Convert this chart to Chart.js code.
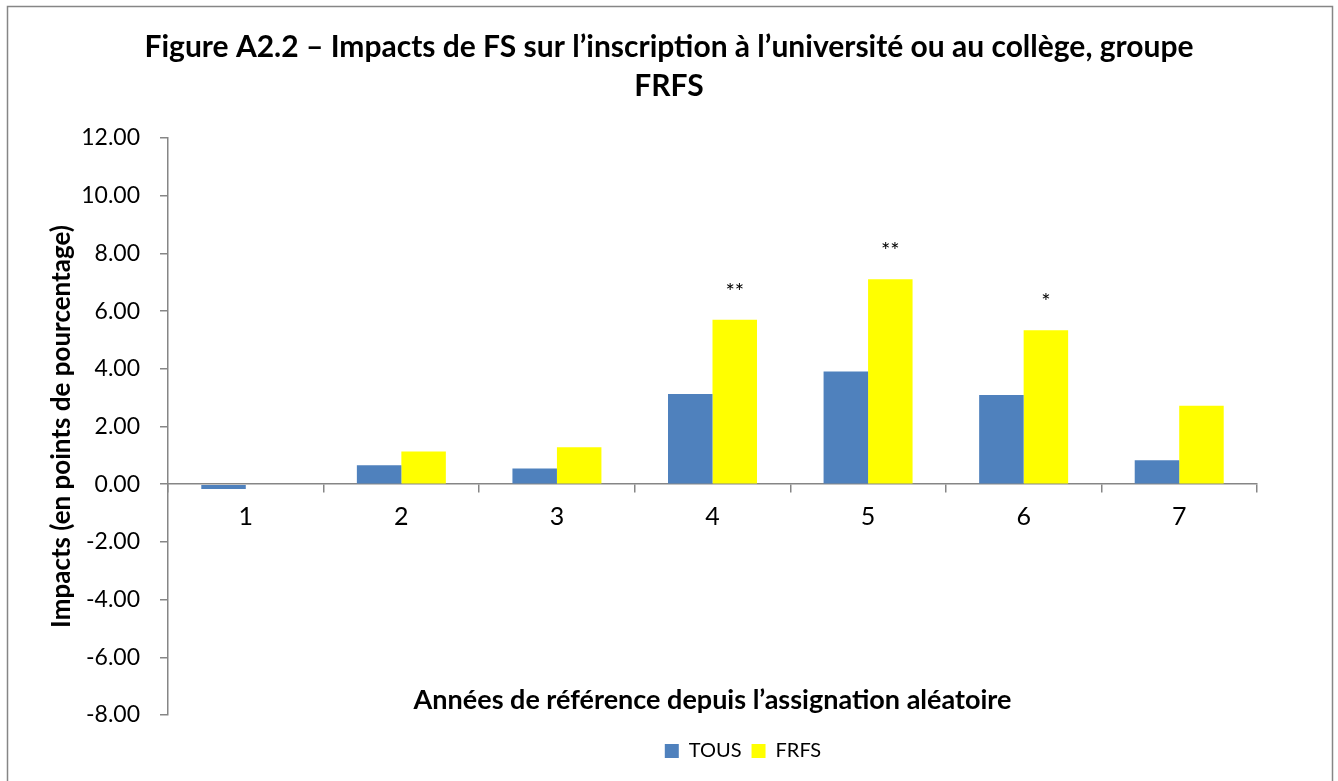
<!DOCTYPE html>
<html>
<head>
<meta charset="utf-8">
<script src="https://cdn.jsdelivr.net/npm/chart.js@4"></script>
<style>
    html, body { margin: 0; padding: 0; background: #fff; }
    #wrap { width: 1338px; height: 781px; }
</style>
</head>
<body>
<div id="wrap"><canvas id="impact-chart" width="1338" height="781"></canvas></div>
<script>
'use strict';

// ==================== DATA ====================

const years = ['1', '2', '3', '4', '5', '6', '7'];
const tousValues = [-0.17, 0.66, 0.54, 3.13, 3.91, 3.09, 0.83];
const frfsValues = [0.0, 1.13, 1.28, 5.70, 7.10, 5.34, 2.72];
const frfsStars = ['', '', '', '**', '**', '*', ''];

const titleLines = [
    'Figure A2.2 \u2013 Impacts de FS sur l\u2019inscription \u00e0 l\u2019universit\u00e9 ou au coll\u00e8ge, groupe',
    'FRFS'
];
const yTitle = 'Impacts (en points de pourcentage)';
const xTitle = 'Ann\u00e9es de r\u00e9f\u00e9rence depuis l\u2019assignation al\u00e9atoire';

const AXIS_GREY = '#868686';
const FONT = 'Lato';

Chart.defaults.font.family = FONT;
Chart.defaults.color = '#000';

// ==================== PLUGINS ====================

// white background + outer frame like the Excel chart area
const frame = {
    id: 'frame',
    beforeDraw(chart) {
        const c = chart.ctx;
        c.save();
        c.fillStyle = '#fff';
        c.fillRect(0, 0, chart.width, chart.height);
        c.strokeStyle = AXIS_GREY;
        c.lineWidth = 1.5;
        c.strokeRect(7.5, 6.5, 1325, 800);
        c.restore();
    }
};

// Excel centres the title on the page and the legend a bit to the right
const nudge = {
    id: 'nudge',
    afterLayout(chart) {
        const t = chart.titleBlock;
        t.left += 37;
        t.right += 37;
        const l = chart.legend;
        l.left += 111;
        l.right += 111;
        l.top += 16;
        l.bottom += 16;
    }
};

// significance stars above the FRFS bars, and the x-axis title inside the plot
const extras = {
    id: 'extras',
    afterDatasetsDraw(chart) {
        const c = chart.ctx;
        const meta = chart.getDatasetMeta(1);
        const y = chart.scales.y;
        c.save();
        c.fillStyle = '#000';
        c.textAlign = 'center';
        c.textBaseline = 'middle';
        c.font = '22px ' + FONT;
        frfsStars.forEach((s, i) => {
            if (!s) return;
            const bar = meta.data[i];
            c.fillText(s, bar.x, y.getPixelForValue(frfsValues[i]) - 28);
        });
        c.font = 'bold 27px ' + FONT;
        const area = chart.chartArea;
        c.fillText(xTitle, (area.left + area.right) / 2, area.bottom - 15);
        c.restore();
    }
};

// ==================== CHART ====================

new Chart(document.getElementById('impact-chart').getContext('2d'), {
    type: 'bar',
    data: {
        labels: years,
        datasets: [
            {
                label: 'TOUS',
                data: tousValues,
                backgroundColor: '#4F81BD',
                barPercentage: 1,
                categoryPercentage: 0.572
            },
            {
                label: 'FRFS',
                data: frfsValues,
                backgroundColor: '#FFFF00',
                barPercentage: 1,
                categoryPercentage: 0.572
            }
        ]
    },
    options: {
        responsive: false,
        animation: false,
        devicePixelRatio: 1,
        layout: {
            padding: { top: 10, bottom: 26, left: 7, right: 81 }
        },
        scales: {
            x: {
                position: { y: 0 },
                grid: {
                    display: true,
                    drawOnChartArea: false,
                    drawTicks: true,
                    tickLength: 8,
                    offset: true,
                    color: AXIS_GREY,
                    lineWidth: 1.5
                },
                border: { display: true, color: AXIS_GREY, width: 1.5 },
                ticks: {
                    color: '#000',
                    padding: 10,
                    font: { size: 25 }
                }
            },
            y: {
                min: -8,
                max: 12,
                afterFit(scale) { scale.width = 161; },
                grid: {
                    display: true,
                    drawOnChartArea: false,
                    drawTicks: true,
                    tickLength: 8,
                    color: AXIS_GREY,
                    lineWidth: 1.5
                },
                border: { display: true, color: AXIS_GREY, width: 1.5 },
                ticks: {
                    stepSize: 2,
                    color: '#000',
                    padding: 20,
                    font: { size: 23 },
                    callback: function(value) {
                        return Number(value).toFixed(2);
                    }
                },
                title: {
                    display: true,
                    text: yTitle,
                    color: '#000',
                    font: { size: 26, weight: 'bold' },
                    padding: { top: 39, bottom: 0 }
                }
            }
        },
        plugins: {
            title: {
                display: true,
                text: titleLines,
                color: '#000',
                font: { size: 30, weight: 'bold', lineHeight: 1.3 },
                padding: { top: 18, bottom: 32 }
            },
            legend: {
                position: 'bottom',
                labels: {
                    color: '#000',
                    boxWidth: 14,
                    boxHeight: 14,
                    padding: 10,
                    font: { size: 20 }
                }
            },
            tooltip: { enabled: false }
        }
    },
    plugins: [frame, nudge, extras]
});
</script>
</body>
</html>
